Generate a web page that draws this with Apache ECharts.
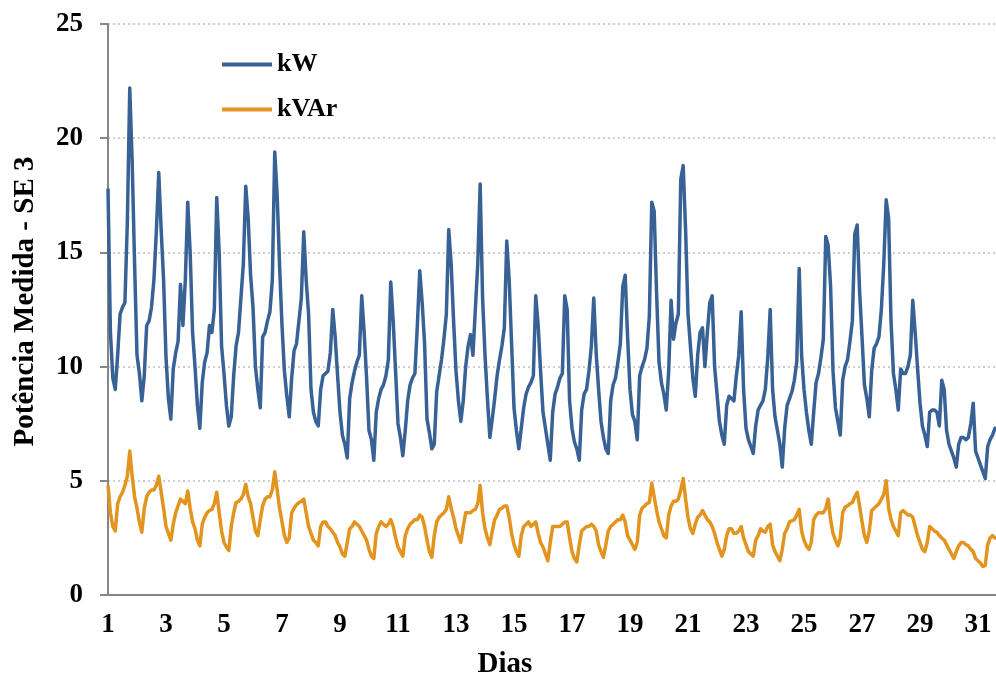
<!DOCTYPE html>
<html>
<head>
<meta charset="utf-8">
<script src="https://cdn.jsdelivr.net/npm/echarts@6/dist/echarts.min.js"></script>
<style>
html,body{margin:0;padding:0;background:#fff;}
#chart{width:996px;height:684px;}
</style>
</head>
<body>
<div id="chart"></div>
<script>
// Day labels on the x axis
const dayLabels = [1,3,5,7,9,11,13,15,17,19,21,23,25,27,29,31];
// Samples every 2 hours (12 per day), starting at day 1, 00:00
const samplesPerDay = 12;
const yTicks = [0,5,10,15,20,25];

const kW = [
  17.8,11.5,9.5,9.0,10.5,12.3,12.6,12.8,16.3,22.2,19.0,14.5,
  10.5,9.7,8.5,9.6,11.8,12.0,12.6,13.8,15.9,18.5,16.0,13.8,
  10.4,8.6,7.7,9.9,10.6,11.1,13.6,11.8,13.8,17.2,15.0,11.5,
  10.0,8.3,7.3,9.3,10.2,10.6,11.8,11.5,12.5,17.4,15.0,10.9,
  9.7,8.3,7.4,7.8,9.6,10.9,11.5,13.0,14.5,17.9,16.5,14.0,
  12.6,10.0,9.0,8.2,11.3,11.5,12.0,12.4,13.8,19.4,17.5,14.4,
  11.8,9.8,8.7,7.8,9.5,10.7,11.0,12.0,13.0,15.9,13.8,12.3,
  9.0,8.0,7.6,7.4,9.0,9.6,9.7,9.8,10.6,12.5,11.3,9.6,
  8.0,7.0,6.6,6.0,8.6,9.3,9.8,10.2,10.5,13.1,11.5,9.5,
  7.2,6.8,5.9,8.0,8.6,9.0,9.2,9.6,10.3,13.7,12.0,9.8,
  7.5,6.9,6.1,7.2,8.5,9.2,9.5,9.7,11.8,14.2,12.8,11.0,
  7.7,7.1,6.4,6.6,8.9,9.6,10.3,11.2,12.3,16.0,14.5,12.0,
  9.8,8.5,7.6,8.5,10.0,10.9,11.4,10.5,12.5,14.5,18.0,13.0,
  10.5,8.6,6.9,7.7,8.6,9.6,10.3,10.9,11.7,15.5,13.8,11.0,
  8.2,7.2,6.4,7.3,8.2,8.8,9.1,9.3,9.6,13.1,11.8,9.8,
  8.0,7.3,6.6,5.9,8.0,8.8,9.1,9.5,9.7,13.1,12.5,8.5,
  7.3,6.7,6.4,5.9,8.1,8.8,9.0,9.8,10.9,13.0,10.6,9.0,
  7.6,6.9,6.4,6.2,8.5,9.2,9.5,10.2,11.0,13.5,14.0,11.3,
  9.0,7.9,7.6,6.8,9.6,10.0,10.3,10.8,12.2,17.2,16.8,13.2,
  10.2,9.3,8.8,8.1,9.8,12.9,11.2,11.9,12.3,18.2,18.8,16.0,
  12.3,10.9,9.5,8.7,10.5,11.5,11.7,10.0,11.5,12.8,13.1,10.0,
  8.8,7.6,7.0,6.6,8.3,8.7,8.6,8.5,9.6,10.5,12.4,9.0,
  7.3,6.8,6.5,6.2,7.4,8.1,8.3,8.5,9.0,10.4,12.5,9.0,
  7.8,7.2,6.6,5.6,7.3,8.3,8.6,8.9,9.4,10.2,14.3,10.5,
  9.0,8.0,7.2,6.6,8.0,9.3,9.7,10.4,11.2,15.7,15.3,13.5,
  9.8,8.2,7.6,7.0,9.4,10.0,10.3,11.1,12.0,15.8,16.2,13.3,
  11.3,9.2,8.6,7.8,9.8,10.8,11.0,11.3,12.5,14.5,17.3,16.5,
  12.0,9.7,9.0,8.1,9.9,9.7,9.7,10.0,10.5,12.9,11.5,9.9,
  8.4,7.4,7.0,6.5,8.0,8.1,8.1,8.0,7.4,9.4,9.0,7.2,
  6.6,6.3,6.0,5.6,6.6,6.9,6.9,6.8,6.9,7.5,8.4,6.3,
  6.0,5.7,5.4,5.1,6.5,6.8,7.0,7.3,7.3
];

const kVAr = [
  4.8,3.6,3.0,2.8,4.0,4.3,4.5,4.8,5.2,6.3,5.2,4.3,
  3.8,3.2,2.75,3.8,4.3,4.5,4.6,4.6,4.8,5.2,4.5,3.8,
  3.0,2.7,2.4,3.1,3.6,3.9,4.2,4.1,4.0,4.55,3.8,3.2,
  2.9,2.4,2.15,3.1,3.4,3.6,3.7,3.75,4.0,4.5,3.6,2.8,
  2.3,2.1,1.95,3.0,3.6,4.05,4.1,4.2,4.4,4.85,4.3,4.0,
  3.4,2.8,2.6,3.3,3.9,4.2,4.3,4.3,4.6,5.4,4.6,3.8,
  3.2,2.6,2.3,2.5,3.6,3.8,3.95,4.05,4.1,4.2,3.6,3.0,
  2.7,2.4,2.3,2.15,3.0,3.2,3.2,3.0,2.9,2.75,2.6,2.3,
  2.1,1.8,1.7,2.3,2.9,3.0,3.2,3.1,3.0,2.8,2.6,2.4,
  2.0,1.7,1.6,2.7,3.0,3.2,3.1,3.0,3.1,3.3,3.0,2.5,
  2.1,1.9,1.7,2.6,2.9,3.1,3.2,3.3,3.3,3.5,3.4,3.0,
  2.4,1.9,1.65,2.6,3.2,3.4,3.5,3.6,3.75,4.3,3.8,3.4,
  2.9,2.6,2.3,3.0,3.6,3.6,3.6,3.7,3.75,4.0,4.8,3.6,
  2.9,2.5,2.2,2.8,3.3,3.5,3.75,3.8,3.9,3.9,3.4,2.7,
  2.2,1.9,1.7,2.6,3.0,3.1,3.2,3.0,3.1,3.2,2.7,2.3,
  2.1,1.8,1.5,2.3,3.0,3.0,3.0,3.0,3.1,3.2,3.2,2.5,
  1.9,1.6,1.45,2.2,2.8,2.9,3.0,3.0,3.1,3.0,2.8,2.2,
  1.9,1.65,2.2,2.8,3.0,3.1,3.2,3.3,3.3,3.5,3.2,2.6,
  2.4,2.2,2.0,2.3,3.5,3.8,3.9,4.0,4.05,4.9,4.3,3.7,
  3.2,2.9,2.6,2.5,3.5,3.9,4.1,4.1,4.2,4.6,5.1,4.2,
  3.4,2.9,2.7,3.1,3.4,3.5,3.7,3.5,3.3,3.2,3.0,2.7,
  2.3,2.0,1.7,2.0,2.6,2.9,2.9,2.7,2.7,2.8,3.0,2.5,
  2.2,1.9,1.8,1.7,2.4,2.6,2.9,2.8,2.75,3.0,3.1,2.2,
  1.9,1.7,1.5,2.0,2.7,2.9,3.2,3.25,3.3,3.5,3.75,2.8,
  2.4,2.15,2.0,2.3,3.3,3.5,3.6,3.6,3.6,3.8,4.2,3.3,
  2.7,2.4,2.15,2.5,3.6,3.85,3.9,4.0,4.05,4.3,4.5,3.9,
  3.2,2.6,2.3,2.8,3.7,3.8,3.9,4.0,4.2,4.4,5.0,3.8,
  3.3,3.0,2.8,2.6,3.6,3.7,3.6,3.5,3.5,3.4,3.0,2.6,
  2.3,2.0,1.9,2.3,3.0,2.9,2.8,2.75,2.6,2.5,2.4,2.2,
  2.0,1.8,1.6,1.9,2.15,2.3,2.3,2.2,2.15,2.0,1.9,1.6,
  1.5,1.4,1.25,1.3,2.2,2.5,2.6,2.5,2.5
];

const FONT = '"Liberation Serif","Times New Roman",serif';
const toPairs = arr => arr.map((v, i) => [i / samplesPerDay, v]);
const firstDay = dayLabels[0];

const chart = echarts.init(document.getElementById('chart'), null, {renderer: 'canvas'});
chart.setOption({
  backgroundColor: '#ffffff',
  animation: false,
  grid: {left: 108, right: 0, top: 24, bottom: 88, containLabel: false},
  legend: {
    data: ['kW', 'kVAr'],
    orient: 'vertical',
    left: 222,
    top: 51,
    padding: 0,
    icon: 'rect',
    itemWidth: 50,
    itemHeight: 4,
    itemGap: 18,
    textStyle: {fontFamily: FONT, fontWeight: 'bold', fontSize: 26, color: '#000', lineHeight: 27}
  },
  xAxis: {
    type: 'value',
    min: 0,
    max: 30.62,
    interval: 2,
    name: 'Dias',
    nameLocation: 'middle',
    nameGap: 55,
    nameTextStyle: {fontFamily: FONT, fontWeight: 'bold', fontSize: 29, color: '#000', lineHeight: 29, padding: [0, 94, 0, 0]},
    axisLine: {show: true, lineStyle: {color: '#868686', width: 2}},
    axisTick: {show: false},
    splitLine: {show: false},
    axisLabel: {
      fontFamily: FONT, fontWeight: 'bold', fontSize: 27, color: '#000', lineHeight: 27,
      margin: 17,
      showMaxLabel: false,
      formatter: v => (dayLabels.indexOf(v + firstDay) >= 0 ? String(v + firstDay) : '')
    }
  },
  yAxis: {
    type: 'value',
    min: yTicks[0],
    max: yTicks[yTicks.length - 1],
    interval: 5,
    name: 'Potência Medida - SE 3',
    nameLocation: 'middle',
    nameRotate: 90,
    nameGap: 68,
    nameTextStyle: {fontFamily: FONT, fontWeight: 'bold', fontSize: 29, color: '#000', padding: [0, 0, 0, 16]},
    axisLine: {show: true, lineStyle: {color: '#868686', width: 2}},
    axisTick: {show: true, length: 8, lineStyle: {color: '#868686', width: 2}},
    splitLine: {show: true, lineStyle: {color: '#BFBFBF', width: 1.5, type: [2, 3]}},
    axisLabel: {fontFamily: FONT, fontWeight: 'bold', fontSize: 27, color: '#000', margin: 25}
  },
  series: [
    {
      name: 'kW', type: 'line', data: toPairs(kW), showSymbol: false, symbol: 'none',
      lineStyle: {color: '#386296', width: 3.5, join: 'round'}, itemStyle: {color: '#386296'}, clip: true
    },
    {
      name: 'kVAr', type: 'line', data: toPairs(kVAr), showSymbol: false, symbol: 'none',
      lineStyle: {color: '#E3941F', width: 3.5, join: 'round'}, itemStyle: {color: '#E3941F'}, clip: true
    }
  ]
});
</script>
</body>
</html>
